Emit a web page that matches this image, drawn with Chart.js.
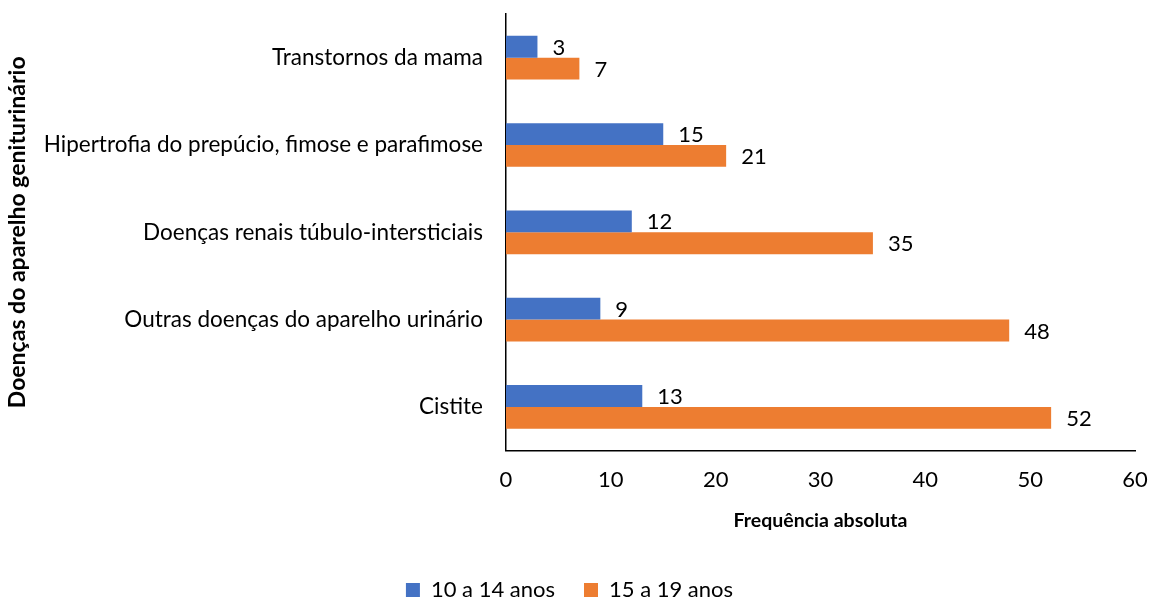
<!DOCTYPE html>
<html>
<head>
<meta charset="utf-8">
<script src="https://cdn.jsdelivr.net/npm/chart.js@4/dist/chart.umd.min.js"></script>
<style>
  html, body { margin: 0; padding: 0; background: #fff; }
  #wrap { width: 1154px; height: 598px; }
</style>
</head>
<body>
<div id="wrap"><canvas id="chart" width="1154" height="598"></canvas></div>
<script>
const categories = [
  'Transtornos da mama',
  'Hipertrofia do prepúcio, fimose e parafimose',
  'Doenças renais túbulo-intersticiais',
  'Outras doenças do aparelho urinário',
  'Cistite'
];
const ages10to14 = [3, 15, 12, 9, 13];
const ages15to19 = [7, 21, 35, 48, 52];
const xTicks = [0, 10, 20, 30, 40, 50, 60];

const FONT = 'Lato, Calibri, "Liberation Sans", sans-serif';
const SIZE = 22;

// draw the value next to the end of each bar
const valueLabels = {
  id: 'valueLabels',
  afterDatasetsDraw(chart) {
    const ctx = chart.ctx;
    ctx.save();
    ctx.font = SIZE + 'px ' + FONT;
    ctx.fillStyle = '#000';
    ctx.textAlign = 'left';
    ctx.textBaseline = 'middle';
    chart.data.datasets.forEach((ds, i) => {
      chart.getDatasetMeta(i).data.forEach((bar, j) => {
        ctx.fillText(ds.data[j], bar.x + 15, bar.y + 1);
      });
    });
    ctx.restore();
  }
};

new Chart(document.getElementById('chart'), {
  type: 'bar',
  data: {
    labels: categories,
    datasets: [
      { label: '10 a 14 anos', data: ages10to14, backgroundColor: '#4472C4' },
      { label: '15 a 19 anos', data: ages15to19, backgroundColor: '#ED7D31' }
    ]
  },
  options: {
    indexAxis: 'y',
    responsive: false,
    animation: false,
    layout: { padding: { top: 14, right: 19, bottom: -13, left: 4 } },
    datasets: { bar: { barPercentage: 1, categoryPercentage: 0.5 } },
    scales: {
      x: {
        min: 0, max: 60,
        afterBuildTicks: axis => { axis.ticks = xTicks.map(v => ({ value: v })); },
        afterFit: axis => { axis.paddingRight = 0; },
        grid: { display: false, drawTicks: false },
        border: { display: true, color: '#000', width: 1.5 },
        ticks: { color: '#000', padding: 18, font: { family: FONT, size: SIZE, lineHeight: 1 } },
        title: { display: true, text: 'Frequência absoluta', color: '#000', padding: { top: 0, bottom: 18 },
                 font: { family: FONT, size: 19.5, weight: 'bold' } }
      },
      y: {
        afterFit: axis => { axis.paddingTop = 0; axis.paddingBottom = 0; axis.width = 502; },
        grid: { display: false, drawTicks: false },
        border: { display: true, color: '#000', width: 1.5 },
        ticks: { color: '#000', padding: 23, font: { family: FONT, size: 22.5 } },
        title: { display: true, text: 'Doenças do aparelho geniturinário', color: '#000', padding: { top: 0, bottom: 12 },
                 font: { family: FONT, size: 23, weight: 'bold' } }
      }
    },
    plugins: {
      legend: {
        position: 'bottom',
        labels: { color: '#000', boxWidth: 14, boxHeight: 14, padding: 29, font: { family: FONT, size: SIZE } }
      },
      tooltip: { enabled: false }
    }
  },
  plugins: [valueLabels]
});
</script>
</body>
</html>
